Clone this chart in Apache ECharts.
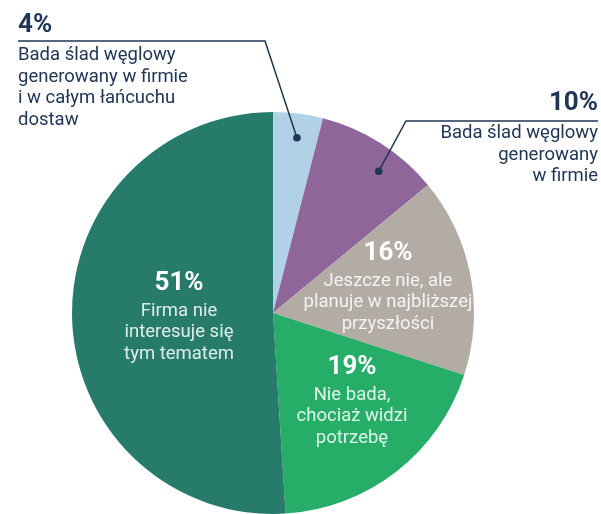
<!DOCTYPE html>
<html>
<head>
<meta charset="utf-8">
<script src="https://cdn.jsdelivr.net/npm/echarts@6/dist/echarts.min.js"></script>
<style>
html, body { margin: 0; padding: 0; background: #fff; }
#chart { width: 601px; height: 514px; }
</style>
</head>
<body>
<div id="chart"></div>
<script>
// udziały firm (w %), kolejność zgodnie z ruchem wskazówek zegara od góry
const shares = [4, 10, 16, 19, 51];
const descriptions = [
	'Bada ślad węglowy\ngenerowany w firmie\ni w całym łańcuchu\ndostaw',
	'Bada ślad węglowy\ngenerowany\nw firmie',
	'Jeszcze nie, ale\nplanuje w najbliższej\nprzyszłości',
	'Nie bada,\nchociaż widzi\npotrzebę',
	'Firma nie\ninteresuje się\ntym tematem'
];
const colors = ['#b1d2e6', '#8f6699', '#b2aca5', '#26ad68', '#277b6b'];

const navy = '#203656';
const center = [273, 313];
const radius = 201;

// miejsca etykiet
const labelPos = [
	{ x: 18, y: 10, align: 'left', verticalAlign: 'top' },
	{ x: 598, y: 88, align: 'right', verticalAlign: 'top' },
	{ x: 388, y: 286, align: 'center', verticalAlign: 'middle' },
	{ x: 352, y: 400, align: 'center', verticalAlign: 'middle' },
	{ x: 179, y: 316, align: 'center', verticalAlign: 'middle' }
];
// linie odniesienia dla małych wycinków
const leaders = [
	{ frac: 0.54, elbow: [265, 41], end: [18, 41] },
	{ frac: 0.62, elbow: [406, 121], end: [598, 121] }
];

const total = shares.reduce((a, b) => a + b, 0);
const dotPoint = i => {
	const before = shares.slice(0, i).reduce((a, b) => a + b, 0);
	const ang = (before + leaders[i].frac * shares[i]) / total * Math.PI * 2;
	const r = radius * 0.88;
	return [center[0] + r * Math.sin(ang), center[1] - r * Math.cos(ang)];
};

const formatLabel = (value, desc, outside) => {
	const lines = desc.split('\n').map(l => `{d|${l}}`).join('\n');
	return outside ? `{p|${value}%}\n{s| }\n${lines}` : `{p|${value}%}\n${lines}`;
};

const data = shares.map((v, i) => {
	const outside = i < 2;
	return {
		value: v,
		itemStyle: { color: colors[i] },
		label: {
			position: outside ? 'outside' : 'inside',
			formatter: formatLabel(v, descriptions[i], outside),
			rich: {
				p: {
					fontFamily: 'Roboto', fontWeight: 'bold', fontSize: 26,
					lineHeight: outside ? 30 : 33, color: outside ? navy : '#ffffff'
				},
				s: { fontSize: 1, lineHeight: 5 },
				d: {
					fontFamily: 'Roboto', fontSize: 18.5, lineHeight: 21.5,
					color: outside ? navy : 'rgba(255,255,255,0.86)'
				}
			}
		},
		labelLine: { show: false }
	};
});

const chart = echarts.init(document.getElementById('chart'));

const leaderGraphics = [];
leaders.forEach((l, i) => {
	const p = dotPoint(i);
	leaderGraphics.push({
		type: 'polyline',
		z: 100,
		shape: { points: [p, l.elbow, l.end] },
		style: { stroke: navy, lineWidth: 1.5, fill: null }
	});
	leaderGraphics.push({
		type: 'circle',
		z: 101,
		shape: { cx: p[0], cy: p[1], r: 3.8 },
		style: { fill: navy }
	});
});

chart.setOption({
	animation: false,
	series: [{
		type: 'pie',
		center: center,
		radius: radius,
		startAngle: 90,
		clockwise: true,
		avoidLabelOverlap: false,
		emphasis: { disabled: true },
		data: data,
		labelLayout: params => labelPos[params.dataIndex]
	}],
	graphic: leaderGraphics
});
</script>
</body>
</html>
